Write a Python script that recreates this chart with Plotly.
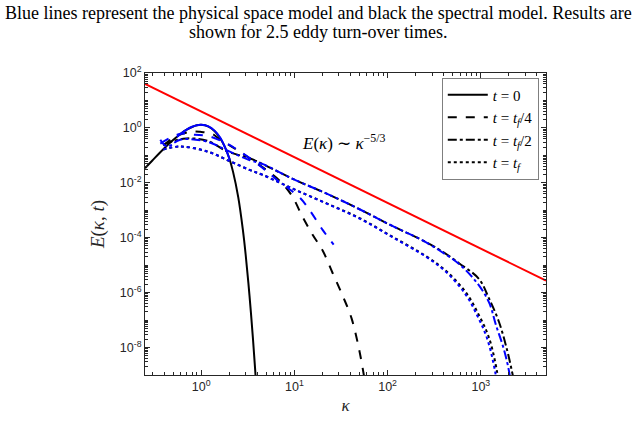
import plotly.graph_objects as go

title_line1 = "Blue lines represent the physical space model and black the spectral model. Results are"
title_line2 = "shown for 2.5 eddy turn-over times."

# t = 0 (spectral, black)
k_s0 = [0.25, 0.3, 0.4, 0.5, 0.6, 0.7, 0.8, 0.9, 1.0, 1.2, 1.4, 1.6, 1.8, 2.0, 2.2, 2.5, 2.8, 3.0, 3.3, 3.6, 3.8, 3.9]
E_s0 = [0.034, 0.065, 0.177, 0.36, 0.6, 0.86, 1.08, 1.24, 1.29, 1.12, 0.76, 0.42, 0.2, 0.08, 0.025, 3e-3, 2e-4,
        2.5e-5, 8e-7, 2e-8, 1.5e-9, 4e-10]
# t = 0 (physical, blue)
k_p0 = [0.55, 0.6, 0.7, 0.8, 0.9, 1.0, 1.2, 1.4, 1.6, 1.8, 2.04]
E_p0 = [0.47, 0.6, 0.87, 1.1, 1.26, 1.31, 1.14, 0.78, 0.45, 0.2, 0.066]

# t = tf/4
k_s1 = [0.393, 0.527, 0.763, 0.976, 1.31, 1.6, 2.04, 3.96, 6.98, 9.38, 12.3, 15.7, 20.1, 25.7, 32.9, 41.0, 50.0, 56.5]
E_s1 = [0.228, 0.477, 0.72, 0.72, 0.61, 0.373, 0.228, 0.0518, 0.0118, 3.43e-3, 5.6e-4, 1.28e-4, 3.43e-5, 5.2e-6,
        7.8e-7, 1.18e-7, 7.2e-9, 7.2e-10]
k_p1 = [0.365, 0.597, 0.863, 1.16, 1.72, 2.61, 4.6, 6.49, 11.4, 14.6, 20.1, 26.4]
E_p1 = [0.268, 0.61, 0.562, 0.518, 0.316, 0.139, 0.0343, 0.0128, 2.91e-3, 1.0e-3, 1.93e-4, 5.6e-5]

# t = tf/2
k_s2 = [0.393, 0.642, 1.16, 1.9, 3.34, 4.6, 9.61, 22.2, 50.0, 112.5, 218.7, 357, 584, 955, 1224, 1566, 1906, 2154, 2318]
E_s2 = [0.247, 0.405, 0.343, 0.139, 0.078, 0.0477, 0.0139, 4.05e-3, 1.09e-3, 2.68e-4, 9.2e-5, 3.73e-5, 1.18e-5,
        3.16e-6, 6.1e-7, 8.5e-8, 8.5e-9, 1.39e-9, 4e-10]
k_p2 = [0.365, 0.433, 0.597, 1.16, 1.9, 3.34, 4.6, 9.61, 22.2, 50.0, 112.5, 218.7, 357, 584, 910, 1224, 1453, 1770,
        2004, 2105]
E_p2 = [0.373, 0.21, 0.373, 0.316, 0.151, 0.0663, 0.0477, 0.0139, 4.05e-3, 1.09e-3, 2.68e-4, 9.2e-5, 3.5e-5,
        1.1e-5, 2.28e-6, 4.4e-7, 6.6e-8, 8.5e-9, 1.39e-9, 4e-10]

# t = tf
k_s3 = [0.393, 0.597, 1.16, 2.04, 3.34, 4.6, 9.61, 22.2, 50.0, 112.5, 260, 425, 695, 955, 1224, 1489, 1563]
E_s3 = [0.164, 0.21, 0.139, 0.061, 0.0291, 0.0193, 6.1e-3, 1.78e-3, 5.2e-4, 1.09e-4, 2.1e-5, 6.1e-6, 1e-6,
        1.51e-7, 2.28e-8, 1.39e-9, 4e-10]
k_p3 = [0.393, 0.597, 1.16, 2.04, 3.34, 4.6, 9.61, 22.2, 50.0, 112.5, 260, 425, 680, 920, 1170, 1420, 1500]
E_p3 = [0.164, 0.21, 0.139, 0.061, 0.0291, 0.0193, 6.1e-3, 1.75e-3, 5.0e-4, 1.05e-4, 2.0e-5, 5.6e-6, 9e-7,
        1.4e-7, 2.1e-8, 1.39e-9, 4e-10]

# reference slope E ~ 4 k^(-5/3)
k_ref = [0.25, 5000]
E_ref = [4 * k ** (-5 / 3) for k in k_ref]

legend_names = ["<i>t</i> = 0", "<i>t</i> = <i>t<sub>f</sub></i>/4",
                "<i>t</i> = <i>t<sub>f</sub></i>/2", "<i>t</i> = <i>t<sub>f</sub></i>"]
dashes = ["solid", "dash", "dashdot", "dot"]

x_tick_vals = [1, 10, 100, 1000]
x_tick_text = ["10<sup>0</sup>", "10<sup>1</sup>", "10<sup>2</sup>", "10<sup>3</sup>"]
y_tick_vals = [1e2, 1e0, 1e-2, 1e-4, 1e-6, 1e-8]
y_tick_text = ["10<sup>2</sup>", "10<sup>0</sup>", "10<sup>-2</sup>", "10<sup>-4</sup>", "10<sup>-6</sup>",
               "10<sup>-8</sup>"]

fig = go.Figure()
spectral = [(k_s0, E_s0), (k_s1, E_s1), (k_s2, E_s2), (k_s3, E_s3)]
physical = [(k_p0, E_p0), (k_p1, E_p1), (k_p2, E_p2), (k_p3, E_p3)]
for (k, E), name, d in zip(spectral, legend_names, dashes):
    fig.add_trace(go.Scatter(x=k, y=E, mode="lines", name=name,
                             line=dict(color="black", width=2, dash=d), line_shape="spline"))
for (k, E), d in zip(physical, dashes):
    fig.add_trace(go.Scatter(x=k, y=E, mode="lines", showlegend=False,
                             line=dict(color="#0000ff", width=2, dash=d), line_shape="spline"))
fig.add_trace(go.Scatter(x=k_ref, y=E_ref, mode="lines", showlegend=False,
                         line=dict(color="#ff0000", width=2)))

x_minor = [m * 10 ** e for e in range(-1, 4) for m in range(2, 10) if 0.25 <= m * 10 ** e <= 5000]
y_minor = [m * 10.0 ** e for e in range(-9, 2) for m in range(1, 10)
           if not (m == 1 and e % 2 == 0)]

axis_common = dict(showline=True, linecolor="#262626", linewidth=1, mirror="allticks", ticks="inside",
                   ticklen=5, tickcolor="#262626", showgrid=False, zeroline=False,
                   tickfont=dict(family="Liberation Sans", size=12.5, color="#262626"))

fig.update_xaxes(type="log", range=[-0.60206, 3.69897], tickmode="array", tickvals=x_tick_vals,
                 ticktext=x_tick_text,
                 minor=dict(tickmode="array", tickvals=x_minor, ticks="inside", ticklen=3, tickcolor="#262626"),
                 title=dict(text="<i>κ</i>", font=dict(family="Liberation Serif", size=17, color="#262626"),
                            standoff=6),
                 **axis_common)
fig.update_yaxes(type="log", range=[-9, 2], tickmode="array", tickvals=y_tick_vals, ticktext=y_tick_text,
                 minor=dict(tickmode="array", tickvals=y_minor, ticks="inside", ticklen=3, tickcolor="#262626"),
                 title=dict(text="<i>E</i>(<i>κ</i>, <i>t</i>)",
                            font=dict(family="Liberation Serif", size=19, color="#262626"), standoff=10),
                 **axis_common)

PH = 308.0
fig.add_annotation(x=(344 - 145) / 401, y=(381 - 130) / PH, xref="paper", yref="paper", showarrow=False,
                   text="<i>E</i>(<i>κ</i>) ∼ <i>κ</i><sup>−5/3</sup>",
                   font=dict(family="Liberation Serif", size=17, color="black"))
fig.add_annotation(x=0.5 * 636 / 401 - 145 / 401, y=1 + (73 - 12) / PH, xref="paper", yref="paper",
                   showarrow=False, text=title_line1, xanchor="center", yanchor="middle",
                   font=dict(family="Liberation Serif", size=18, color="black"))
fig.add_annotation(x=0.5 * 636 / 401 - 145 / 401, y=1 + (73 - 31) / PH, xref="paper", yref="paper",
                   showarrow=False, text=title_line2, xanchor="center", yanchor="middle",
                   font=dict(family="Liberation Serif", size=18, color="black"))

fig.update_layout(
    width=636, height=424,
    margin=dict(l=145, r=90, t=73, b=43),
    paper_bgcolor="white", plot_bgcolor="white",
    legend=dict(x=0.982, y=0.985, xanchor="right", yanchor="top", bgcolor="white",
                bordercolor="#7f7f7f", borderwidth=1, tracegroupgap=0, itemwidth=40,
                font=dict(family="Liberation Serif", size=15, color="black")),
    showlegend=True,
)

fig.write_html("out.html")
